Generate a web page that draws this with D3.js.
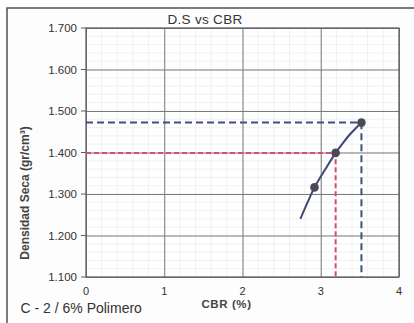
<!DOCTYPE html>
<html>
<head>
<meta charset="utf-8">
<script src="https://cdn.jsdelivr.net/npm/d3@7"></script>
<style>
  html, body { margin: 0; padding: 0; background: #fdfdfd; }
  svg { display: block; font-family: "Liberation Sans", Arial, sans-serif; }
</style>
</head>
<body>
<svg id="chart" width="414" height="323"></svg>
<script>
// Ensayo CBR: densidad seca vs CBR
const cbr = [2.92, 3.19, 3.52];
const densidad = [1.316, 1.399, 1.472];

// Curva de tendencia
const curvaCbr = [2.74, 2.83, 2.92, 3.06, 3.19, 3.28, 3.36, 3.45, 3.52];
const curvaDens = [1.240, 1.279, 1.316, 1.360, 1.399, 1.422, 1.441, 1.459, 1.472];

// Líneas de referencia: máximo y 95 %
const refMaxCbr = 3.52, refMaxDens = 1.472;
const ref95Cbr = 3.19, ref95Dens = 1.399;

const xTicks = [0, 1, 2, 3, 4];
const yTicks = [1.1, 1.2, 1.3, 1.4, 1.5, 1.6, 1.7];

const svg = d3.select("#chart");
const m = { left: 86, right: 399, top: 28, bottom: 277 };

const x = d3.scaleLinear().domain([0, 4]).range([m.left, m.right]);
const y = d3.scaleLinear().domain([1.1, 1.7]).range([m.bottom, m.top]);

// marco exterior
svg.append("rect")
  .attr("x", 7).attr("y", 8).attr("width", 420).attr("height", 330)
  .attr("fill", "#fdfdfd").attr("stroke", "#505050").attr("stroke-width", 1.5);

// área de trazado
svg.append("rect")
  .attr("x", m.left).attr("y", m.top)
  .attr("width", m.right - m.left).attr("height", m.bottom - m.top)
  .attr("fill", "#ffffff");

// rejilla secundaria
const gMinor = svg.append("g").attr("stroke", "#eeeeee").attr("stroke-width", 0.8);
gMinor.selectAll("line.vx").data(d3.range(0, 4.0001, 0.2)).join("line")
  .attr("x1", d => x(d)).attr("x2", d => x(d))
  .attr("y1", m.top).attr("y2", m.bottom);
gMinor.selectAll("line.hy").data(d3.range(1.1, 1.7001, 0.02)).join("line")
  .attr("y1", d => y(d)).attr("y2", d => y(d))
  .attr("x1", m.left).attr("x2", m.right);

// rejilla principal mediante ejes
svg.append("g")
  .attr("transform", `translate(0,${m.bottom})`)
  .call(d3.axisBottom(x).tickValues(xTicks).tickSize(-(m.bottom - m.top)).tickFormat(""))
  .call(g => g.select(".domain").remove())
  .call(g => g.selectAll(".tick line").attr("stroke", "#7a7a7a").attr("stroke-width", 1));

svg.append("g")
  .attr("transform", `translate(${m.left},0)`)
  .call(d3.axisLeft(y).tickValues(yTicks).tickSize(-(m.right - m.left)).tickFormat(""))
  .call(g => g.select(".domain").remove())
  .call(g => g.selectAll(".tick line").attr("stroke", "#7a7a7a").attr("stroke-width", 1));

// borde del área de trazado
svg.append("rect")
  .attr("x", m.left).attr("y", m.top)
  .attr("width", m.right - m.left).attr("height", m.bottom - m.top)
  .attr("fill", "none").attr("stroke", "#5a5a5a").attr("stroke-width", 1.2);

// marcas cortas a la izquierda del eje Y
svg.append("g").selectAll("line").data(yTicks).join("line")
  .attr("x1", m.left - 5).attr("x2", m.left)
  .attr("y1", d => y(d)).attr("y2", d => y(d))
  .attr("stroke", "#5a5a5a").attr("stroke-width", 1);

// etiquetas de los ejes
svg.append("g").selectAll("text").data(yTicks).join("text")
  .attr("x", 77).attr("y", d => y(d) + 4)
  .attr("text-anchor", "end").attr("font-size", 11.5).attr("fill", "#333")
  .text(d => d3.format(".3f")(d));

svg.append("g").selectAll("text").data(xTicks).join("text")
  .attr("x", d => x(d)).attr("y", 295)
  .attr("text-anchor", "middle").attr("font-size", 11).attr("fill", "#333")
  .text(d => d);

// líneas de referencia discontinuas
const guia = (cx, cy, color, dash) => {
  svg.append("path")
    .attr("d", `M${x(0)},${y(cy)}H${x(cx)}V${y(1.1)}`)
    .attr("fill", "none").attr("stroke", color).attr("stroke-width", 2)
    .attr("stroke-dasharray", dash);
};
guia(ref95Cbr, ref95Dens, "#d2506c", "5,3");
guia(refMaxCbr, refMaxDens, "#3e5080", "7,4");

// curva
const curva = curvaCbr.map((c, i) => [c, curvaDens[i]]);
svg.append("path")
  .datum(curva)
  .attr("d", d3.line().x(d => x(d[0])).y(d => y(d[1])).curve(d3.curveCatmullRom.alpha(0.5)))
  .attr("fill", "none").attr("stroke", "#3f4872").attr("stroke-width", 2);

// puntos del ensayo
svg.append("g").selectAll("circle").data(cbr.map((c, i) => [c, densidad[i]])).join("circle")
  .attr("cx", d => x(d[0])).attr("cy", d => y(d[1])).attr("r", 4.3)
  .attr("fill", "#4a4a56");

// títulos
svg.append("text")
  .attr("x", 205).attr("y", 23.5).attr("text-anchor", "middle")
  .attr("font-size", 13.5).attr("fill", "#333").attr("letter-spacing", 0.3)
  .text("D.S vs CBR");

svg.append("text")
  .attr("transform", "translate(29,193) rotate(-90)")
  .attr("text-anchor", "middle").attr("font-size", 12).attr("font-weight", "bold")
  .attr("fill", "#444")
  .text("Densidad Seca (gr/cm³)");

svg.append("text")
  .attr("x", 226.5).attr("y", 307.5).attr("text-anchor", "middle")
  .attr("font-size", 11.5).attr("font-weight", "bold").attr("fill", "#444")
  .attr("letter-spacing", 0.6)
  .text("CBR (%)");

svg.append("text")
  .attr("x", 20.5).attr("y", 313).attr("font-size", 14).attr("fill", "#333")
  .text("C - 2 / 6% Polimero");
</script>
</body>
</html>
